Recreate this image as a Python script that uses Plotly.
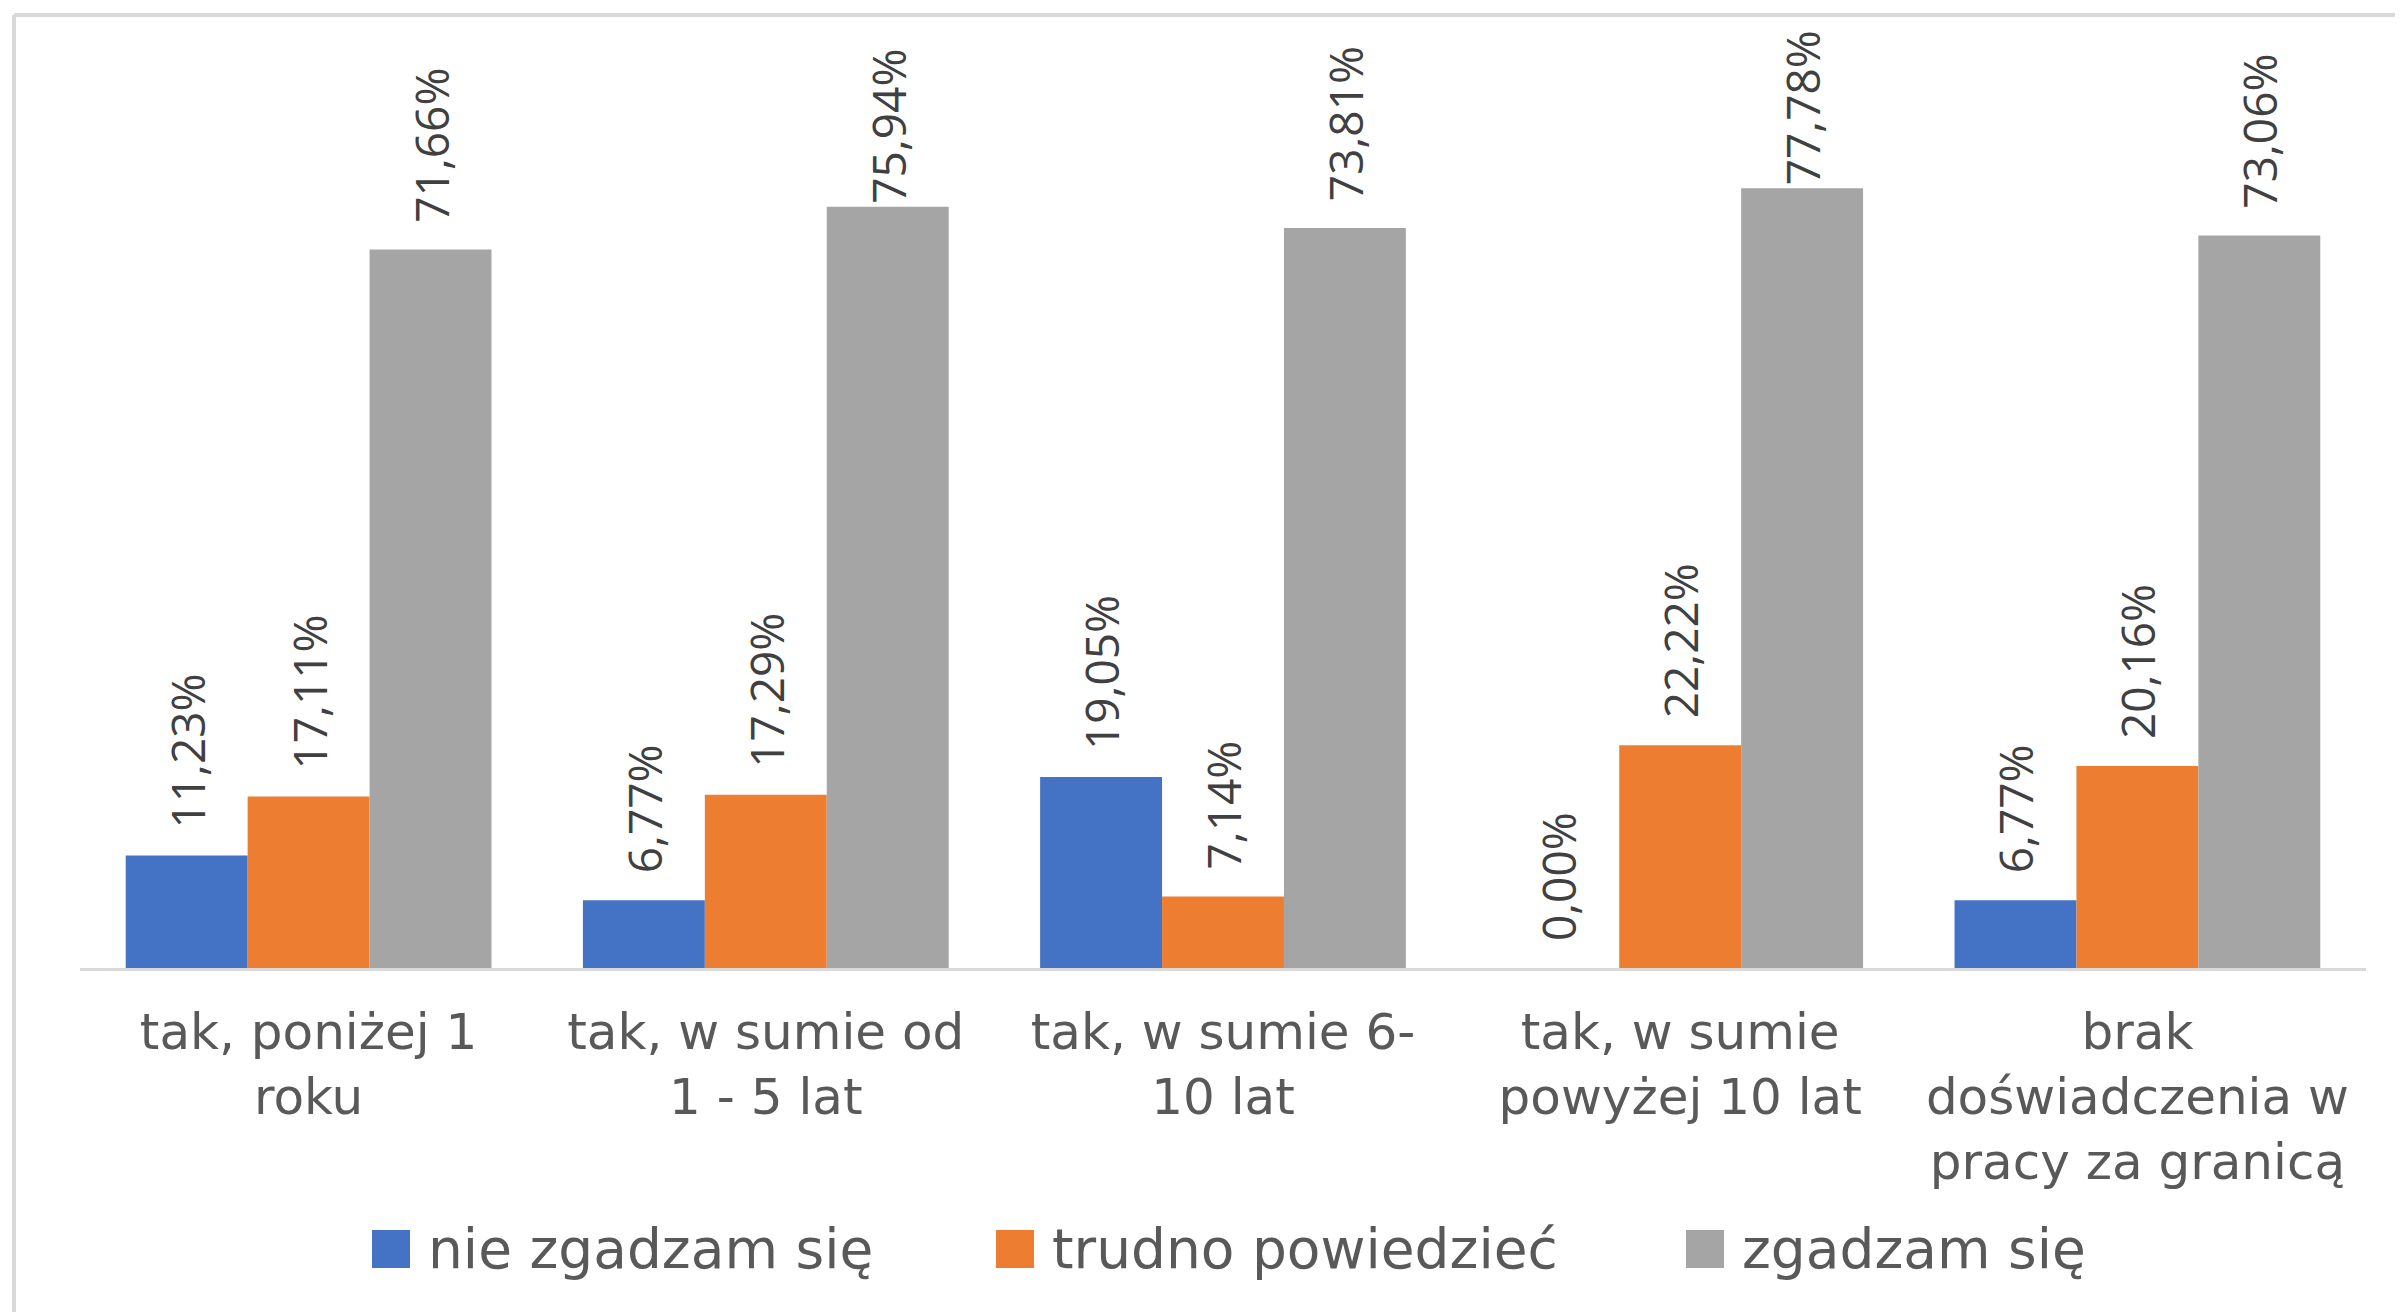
import plotly.graph_objects as go

categories = [
    "tak, poniżej 1<br>roku",
    "tak, w sumie od<br>1 - 5 lat",
    "tak, w sumie 6-<br>10 lat",
    "tak, w sumie<br>powyżej 10 lat",
    "brak<br>doświadczenia w<br>pracy za granicą",
]
series_names = ["nie zgadzam się", "trudno powiedzieć", "zgadzam się"]
nie_zgadzam = [11.23, 6.77, 19.05, 0.00, 6.77]
trudno = [17.11, 17.29, 7.14, 22.22, 20.16]
zgadzam = [71.66, 75.94, 73.81, 77.78, 73.06]
colors = ["#4472C4", "#ED7D31", "#A5A5A5"]

# page body has an 8px default margin; the figure is sized/offset to compensate
OFF = 8
W, H = 2403 - OFF, 1312 - OFF
ML, MR, MT, MB = 80 - OFF, 37, 166 - OFF, 344
PW, PH = W - ML - MR, H - MT - MB
YMAX = 80


def px(x):
    # x given in page pixels
    return (x - OFF - ML) / PW


def py(y):
    # y given in page pixels
    return (H - MB - (y - OFF)) / PH


def fmt(v):
    # like Excel: label is pushed against the bar when it would not fit below the frame
    room = MT + (YMAX - v) / YMAX * PH  # pixels between figure top and bar top
    lead = "\u00a0\u00a0" if room > 200 else ""
    return lead + f"{v:.2f}".replace(".", ",") + "%"


fig = go.Figure()
for name, vals, col in zip(series_names, [nie_zgadzam, trudno, zgadzam], colors):
    fig.add_trace(go.Bar(
        x=categories, y=vals, name=name, marker=dict(color=col, line=dict(width=0)),
        text=[fmt(v) for v in vals], textposition="outside", textangle=-90,
        constraintext="none", cliponaxis=False,
        textfont=dict(family="Open Sans", size=46, color="#404040"),
        showlegend=False,
    ))

# border of chart area (light gray frame)
fig.add_shape(type="line", xref="paper", yref="paper",
              x0=px(14), x1=px(2403 + 20), y0=py(15), y1=py(15),
              line=dict(color="#D9D9D9", width=4))
fig.add_shape(type="line", xref="paper", yref="paper",
              x0=px(14), x1=px(14), y0=py(15), y1=py(1312 + 20),
              line=dict(color="#D9D9D9", width=4))

# legend (manual, large square markers)
legend_marker_x = [372, 996, 1686]
legend_y = 1249
sq = 38
for name, col, mx in zip(series_names, colors, legend_marker_x):
    fig.add_shape(type="rect", xref="paper", yref="paper",
                  x0=px(mx), x1=px(mx + sq), y0=py(legend_y + sq / 2), y1=py(legend_y - sq / 2),
                  fillcolor=col, line=dict(width=0))
    fig.add_annotation(xref="paper", yref="paper", x=px(mx + sq + 16), y=py(legend_y),
                       xanchor="left", yanchor="middle", text=name, showarrow=False,
                       font=dict(family="DejaVu Sans", size=55, color="#595959"))

fig.update_layout(
    width=W, height=H,
    margin=dict(l=ML, r=MR, t=MT, b=MB, pad=0),
    paper_bgcolor="white", plot_bgcolor="white",
    barmode="group", bargap=0.2, bargroupgap=0,
    showlegend=False,
    xaxis=dict(showline=True, linecolor="#D9D9D9", linewidth=3, ticks="",
               showgrid=False, ticklabelstandoff=18,
               tickfont=dict(family="DejaVu Sans", size=50, color="#595959")),
    yaxis=dict(range=[0, YMAX], visible=False, showgrid=False, zeroline=False),
)

fig.write_html("out.html")
